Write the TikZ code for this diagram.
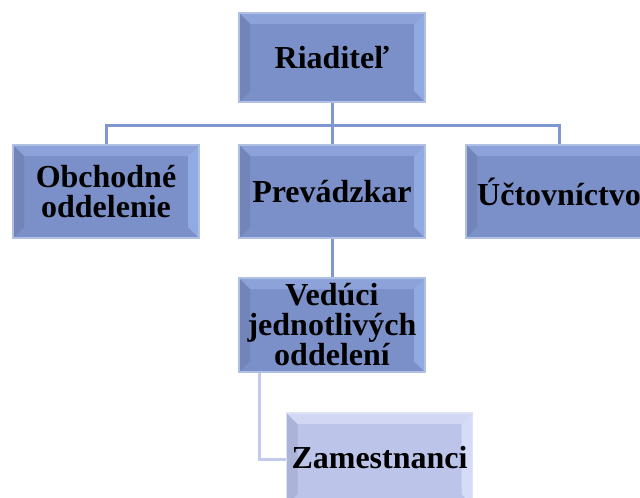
\documentclass[tikz,border=0pt]{standalone}
\usepackage{fontspec}
\setmainfont{Liberation Serif}
\definecolor{bmid}{HTML}{7B90C8}
\definecolor{btop}{HTML}{8DA2D8}
\definecolor{bleft}{HTML}{7284B8}
\definecolor{bright}{HTML}{92AAE2}
\definecolor{bedge}{HTML}{AFC0E4}
\definecolor{lmid}{HTML}{BCC4EA}
\definecolor{ltop}{HTML}{D2D8F4}
\definecolor{lleft}{HTML}{ABB3D9}
\definecolor{lright}{HTML}{D6DCF7}
\definecolor{ledge}{HTML}{DDE2F4}
\definecolor{conn}{HTML}{7F97D0}
\definecolor{lconn}{HTML}{C3CAEC}
\tikzset{
  bev/.style n args={5}{
    rectangle, inner sep=0pt, minimum width=186pt, minimum height=91pt,
    fill=#1, draw=#2, line width=1.5pt, align=center,
    font=\bfseries\fontsize{32}{30}\selectfont,
    path picture={
      \def\pb{path picture bounding box}
      \fill[#3] (\pb.north west) -- (\pb.north east) -- ([xshift=-11pt,yshift=-11pt]\pb.north east) -- ([xshift=11pt,yshift=-11pt]\pb.north west) -- cycle;
      \fill[#4] (\pb.north west) -- (\pb.south west) -- ([xshift=11pt,yshift=11pt]\pb.south west) -- ([xshift=11pt,yshift=-11pt]\pb.north west) -- cycle;
      \fill[#5] (\pb.north east) -- (\pb.south east) -- ([xshift=-11pt,yshift=11pt]\pb.south east) -- ([xshift=-11pt,yshift=-11pt]\pb.north east) -- cycle;
    }},
  bluebox/.style={bev={bmid}{bedge}{btop}{bleft}{bright}},
  lightbox/.style={bev={lmid}{ledge}{ltop}{lleft}{lright}},
  connline/.style={draw=conn, line width=3pt},
  lconnline/.style={draw=lconn, line width=3pt},
}
\begin{document}
\begin{tikzpicture}[x=1pt,y=-1pt]
\useasboundingbox (0,0) rectangle (640,498);
\clip (0,0) rectangle (640,498);
\coordinate (hb) at (332,125);
\node[bluebox, minimum height=89pt] (R) at (332,57.5) {Riaditeľ};
\node[bluebox, minimum height=93pt] (Ob) at (106,191.5) {Obchodné\\oddelenie};
\node[bluebox, minimum height=93pt] (Pr) at (332,191.5) {Prevádzkar};
\node[bluebox, minimum height=93pt] (Uc) at (559,191.5) {Účtovníctvo};
\node[bluebox, minimum height=94pt] (Ve) at (332,325) {Vedúci\\jednotlivých\\oddelení};
\node[lightbox, minimum height=92pt] (Za) at (379.5,459) {\raisebox{3pt}{Zamestnanci}};
\draw[connline] (R.south) -- (R.south |- hb);
\draw[connline] (Ob.north) -- (Ob.north |- hb) -| (Uc.north);
\draw[connline] (Pr.north) -- (Pr.north |- hb);
\draw[connline] (Pr.south) -- (Ve.north);
\draw[lconnline] ([xshift=-73pt]Ve.south) |- (Za.west);
\end{tikzpicture}
\end{document}
